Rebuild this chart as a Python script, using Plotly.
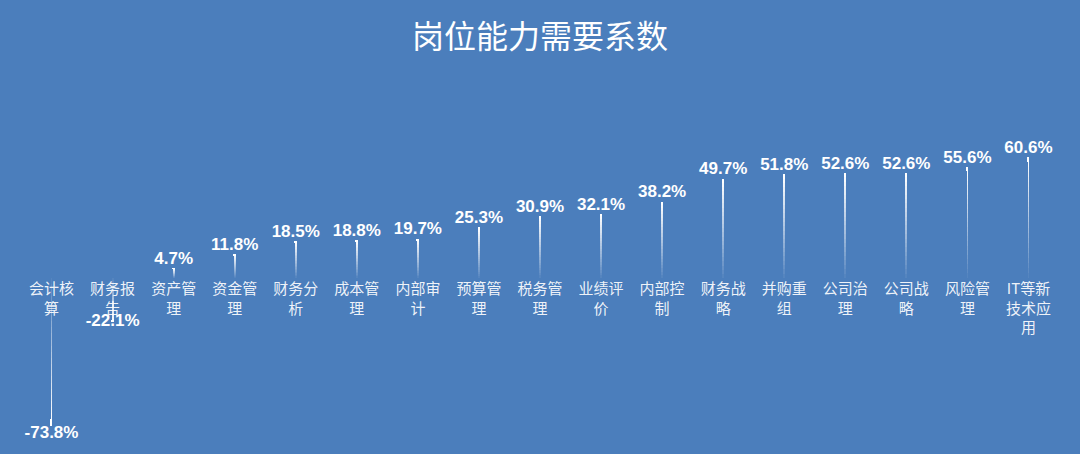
import plotly.graph_objects as go

categories = ["会计核算", "财务报告", "资产管理", "资金管理", "财务分析", "成本管理", "内部审计",
              "预算管理", "税务管理", "业绩评价", "内部控制", "财务战略", "并购重组", "公司治理",
              "公司战略", "风险管理", "IT等新技术应用"]
values = [-73.8, -22.1, 4.7, 11.8, 18.5, 18.8, 19.7, 25.3, 30.9, 32.1, 38.2, 49.7, 51.8, 52.6,
          52.6, 55.6, 60.6]
tick_labels = ["会计核<br>算", "财务报<br>告", "资产管<br>理", "资金管<br>理", "财务分<br>析",
               "成本管<br>理", "内部审<br>计", "预算管<br>理", "税务管<br>理", "业绩评<br>价",
               "内部控<br>制", "财务战<br>略", "并购重<br>组", "公司治<br>理", "公司战<br>略",
               "风险管<br>理", "IT等新<br>技术应<br>用"]

BG = "#4b7ebc"
N = 24
fig = go.Figure()
for k in range(N):
    a = ((k + 1) / N) ** 0.9
    fig.add_trace(go.Bar(
        x=categories, y=[v / N for v in values], width=0.03,
        marker=dict(color=f"rgba(255,255,255,{a:.3f})", line=dict(width=0)),
        hoverinfo="skip", showlegend=False))

fig.add_trace(go.Scatter(
    x=categories, y=values, mode="text",
    text=[f"{v:.1f}%" for v in values],
    textposition=["bottom center" if v < -50 else ("middle center" if v < 0 else "top center")
                  for v in values],
    textfont=dict(family="Arial, Liberation Sans", size=17, color="white", weight="bold"),
    cliponaxis=False, showlegend=False, hoverinfo="skip"))

ymin, ymax = -85, 75
fig.update_layout(
    width=1080, height=454,
    paper_bgcolor=BG, plot_bgcolor=BG,
    barmode="relative", bargap=0,
    margin=dict(l=21, r=21, t=128, b=6),
    title=dict(text="岗位能力需要系数", x=0.5, xanchor="center", y=1 - 37 / 454, yanchor="middle",
               font=dict(family="Noto Sans CJK SC", size=32, color="white")),
    xaxis=dict(tickmode="array", tickvals=categories, ticktext=tick_labels,
               range=[-0.5, len(categories) - 0.5],
               anchor="free", position=(0 - ymin) / (ymax - ymin),
               showline=False, ticks="", showgrid=False, zeroline=False,
               tickfont=dict(family="Noto Sans CJK SC", size=15, color="rgba(255,255,255,0.92)")),
    yaxis=dict(range=[ymin, ymax], visible=False, showgrid=False, zeroline=False),
)
fig.write_html("out.html", config={"displayModeBar": False},
               post_script="document.body.style.margin='0';document.body.style.background='" + BG + "';")
